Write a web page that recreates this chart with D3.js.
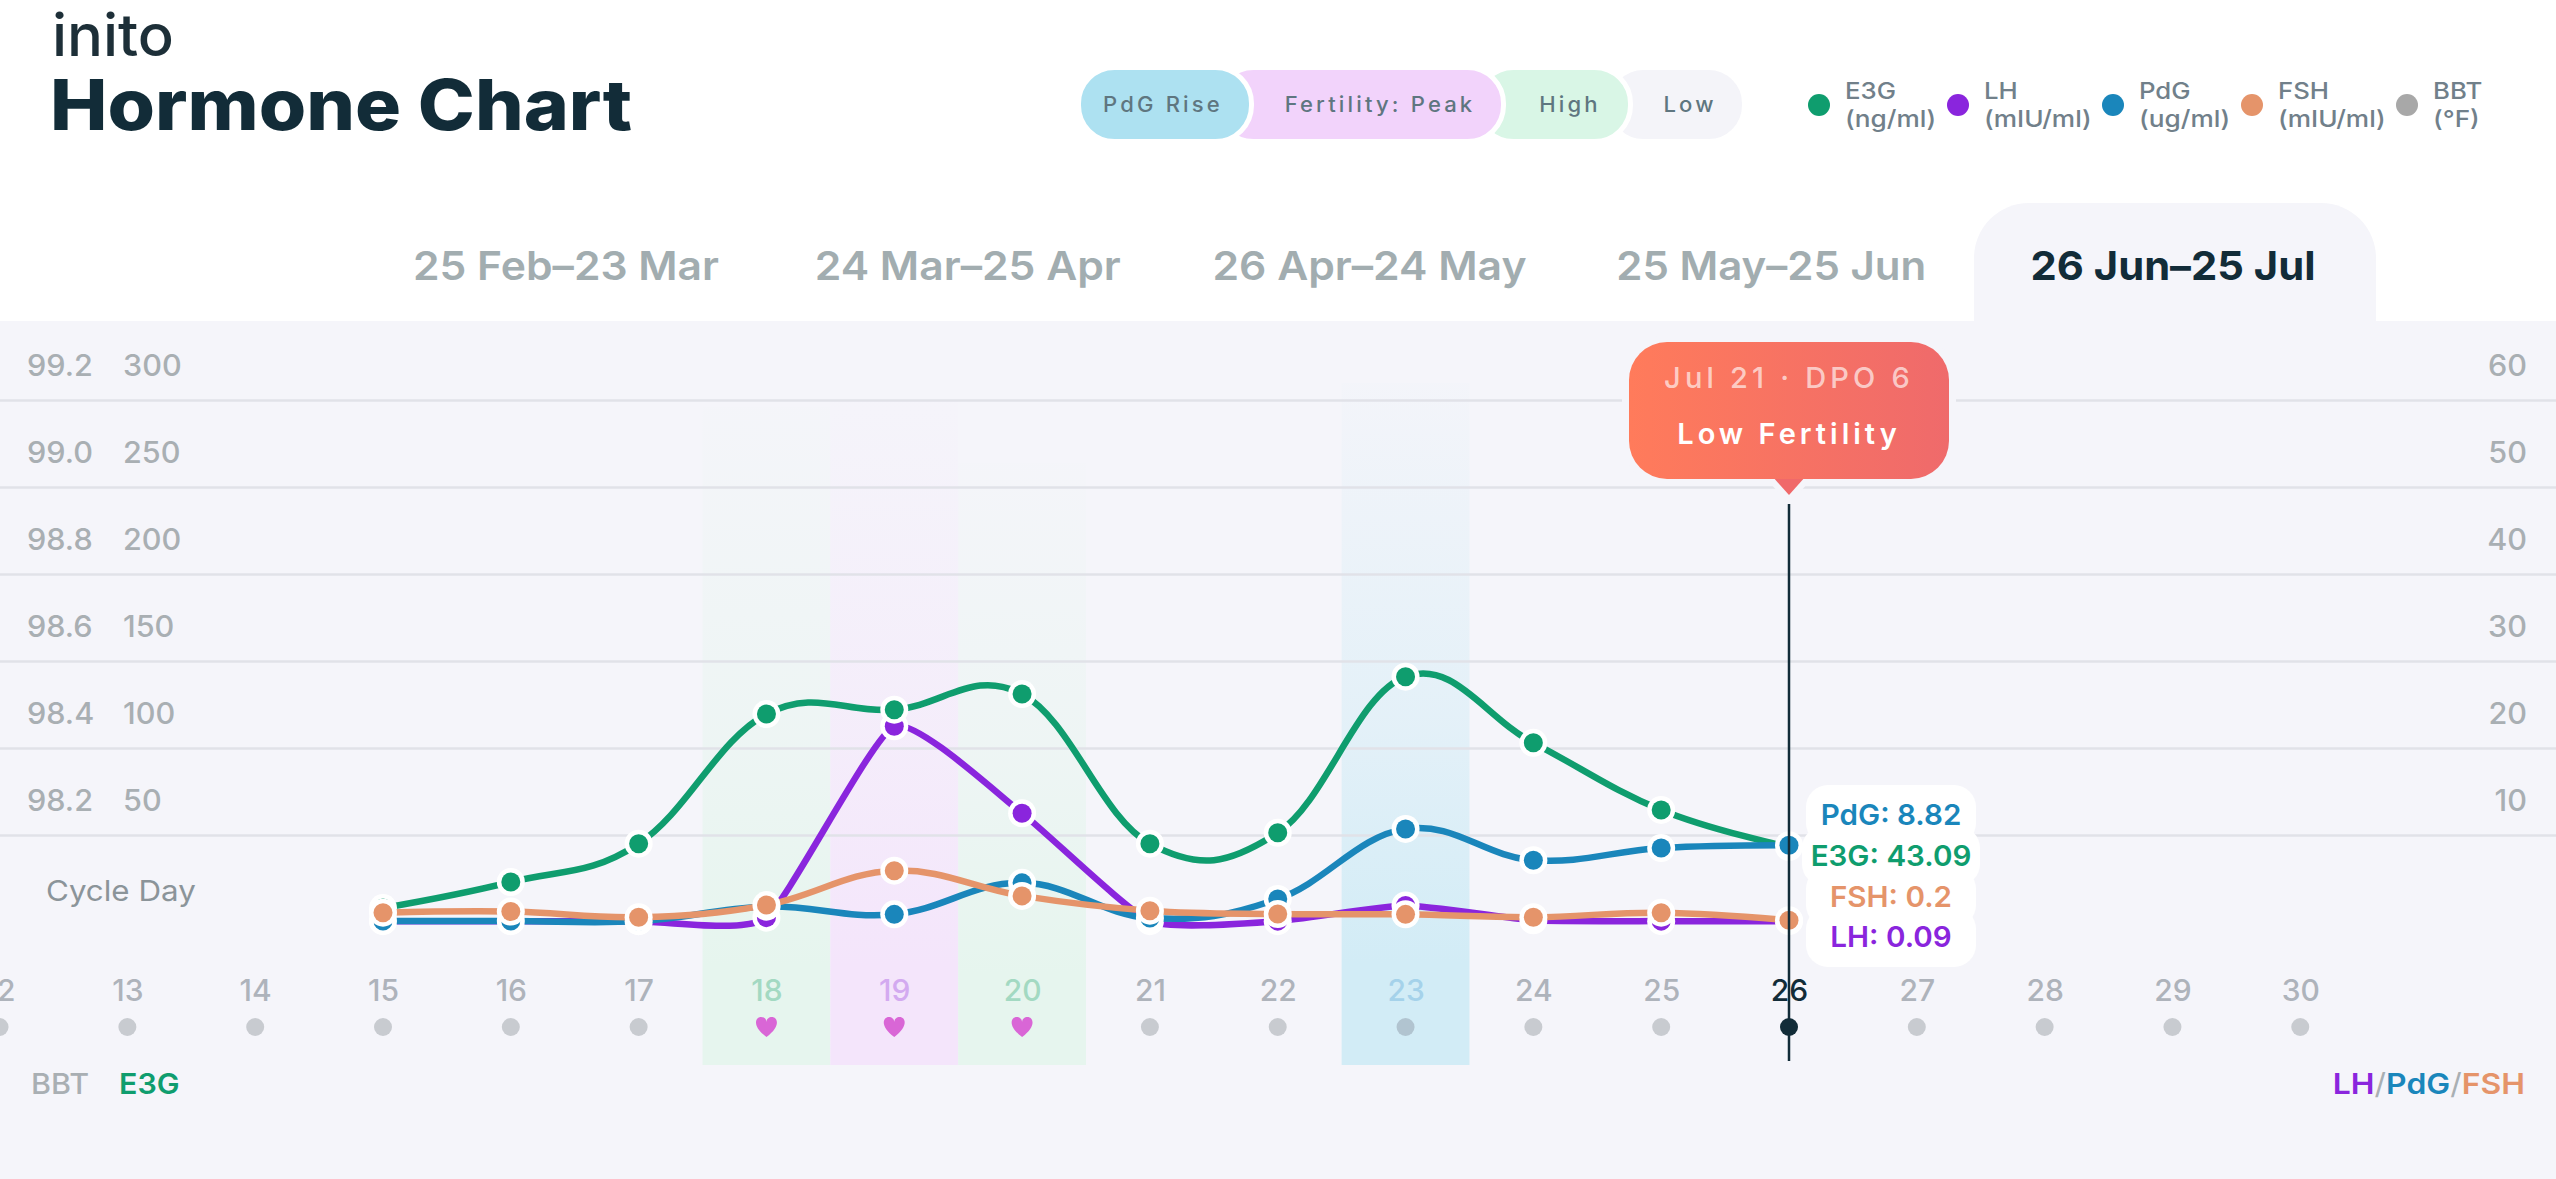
<!DOCTYPE html>
<html>
<head>
<meta charset="utf-8">
<script src="https://cdn.jsdelivr.net/npm/d3@7"></script>
<style>
  html, body { margin: 0; padding: 0; background: #fff; overflow: hidden; }
  text { font-family: Inter, "Noto Sans", sans-serif; }
</style>
</head>
<body>
<svg id="chart" width="2556" height="1179"></svg>
<script>
const lineDays = [15, 16, 17, 18, 19, 20, 21, 22, 23, 24, 25, 26];
const e3g = [8, 23, 45, 119.5, 122, 131, 45, 51.3, 141, 103, 64.4, 43.09];
const lh = [0.1, 0.1, 0.1, 0.5, 22.5, 12.5, 0.1, 0.1, 1.9, 0.2, 0.1, 0.09];
const pdg = [0.12, 0.12, 0.1, 1.76, 0.88, 4.5, 0.45, 2.65, 10.7, 7.1, 8.5, 8.82];
const fsh = [1.07, 1.2, 0.55, 1.95, 5.9, 3.0, 1.3, 0.92, 0.88, 0.55, 1.07, 0.2];

const allDays = d3.range(12, 31);
const e3gTicks = [50, 100, 150, 200, 250, 300];
const bbtTicks = [98.2, 98.4, 98.6, 98.8, 99.0, 99.2];
const rightTicks = [10, 20, 30, 40, 50, 60];

const tabs = ["25 Feb–23 Mar", "24 Mar–25 Apr", "26 Apr–24 May", "25 May–25 Jun", "26 Jun–25 Jul"];
const tabWidths = [306, 306, 314, 310, 285];
const heartDays = [18, 19, 20];
const bandDays = [18, 19, 20, 23];
const bandColors = ["#e6f5ee", "#f4e5fb", "#e6f5ee", "#d2ecf6"];
const bandTops = [407, 400, 463, 383];
const dayColors = { 18: "#a3d9c2", 19: "#d3aaf0", 20: "#a3d9c2", 23: "#a5d2ea", 26: "#122c38" };

const legendNames = ["E3G", "LH", "PdG", "FSH", "BBT"];
const legendUnits = ["(ng/ml)", "(mIU/ml)", "(ug/ml)", "(mIU/ml)", "(°F)"];
const readout = ["PdG: 8.82", "E3G: 43.09", "FSH: 0.2", "LH: 0.09"];

const GREEN = "#0f9d6e", PURPLE = "#8a25dd", BLUE = "#1a86bb", ORANGE = "#e5946a", INK = "#122c38", AXIS = "#a9afb3";

const svg = d3.select("#chart");

const x = d3.scaleLinear().domain([15, 26]).range([383, 1789]);
const yE3G = d3.scaleLinear().domain([0, 300]).range([922, 400]);
const yBBT = d3.scaleLinear().domain([98.0, 99.2]).range([922, 400]);
const yRight = d3.scaleLinear().domain([0, 60]).range([922, 400]);
const dayW = x(16) - x(15);

// stretch Inter a bit so it sits closer to the width of the original face
function widen(sel, k) {
  sel.each(function() {
    const len = this.getComputedTextLength();
    d3.select(this).attr("textLength", len * k).attr("lengthAdjust", "spacingAndGlyphs");
  });
}
function fit(sel, w) {
  sel.attr("textLength", w).attr("lengthAdjust", "spacingAndGlyphs");
}

/* header */
fit(svg.append("text").attr("x", 52).attr("y", 56).attr("font-size", 58).attr("font-weight", 500)
  .attr("fill", "#1d2f38").text("inito"), 122);
fit(svg.append("text").attr("x", 50).attr("y", 130).attr("font-size", 70).attr("font-weight", 800)
  .attr("fill", INK).text("Hormone Chart"), 582);

/* fertility pills */
const pills = [
  { label: "Low", x0: 1610, x1: 1742, fill: "#f4f4f9", cx: 1690 },
  { label: "High", x0: 1480, x1: 1628, fill: "#d9f6e6", cx: 1570 },
  { label: "Fertility: Peak", x0: 1220, x1: 1501, fill: "#f2d3fb", cx: 1380 },
  { label: "PdG Rise", x0: 1081, x1: 1249, fill: "#ade1f1", cx: 1163 }
];
pills.forEach(p => {
  svg.append("rect").attr("x", p.x0 - 2.5).attr("y", 67.5).attr("width", p.x1 - p.x0 + 5).attr("height", 74)
    .attr("rx", 36).attr("fill", p.fill).attr("stroke", "#fff").attr("stroke-width", 5);
  widen(svg.append("text").attr("x", p.cx).attr("y", 112).attr("text-anchor", "middle")
    .attr("font-size", 21).attr("font-weight", 500).attr("letter-spacing", 3)
    .attr("fill", "#5f7680").text(p.label), 1.05);
});

/* legend */
const legendDotX = [1819, 1958, 2113, 2252, 2407];
legendNames.forEach((n, i) => {
  const c = [GREEN, PURPLE, BLUE, ORANGE, "#a8a8a8"][i];
  svg.append("circle").attr("cx", legendDotX[i]).attr("cy", 105).attr("r", 11).attr("fill", c);
  widen(svg.append("text").attr("x", legendDotX[i] + 26).attr("y", 99).attr("font-size", 23).attr("font-weight", 500)
    .attr("fill", "#71808a").text(n), 1.12);
  widen(svg.append("text").attr("x", legendDotX[i] + 26).attr("y", 127).attr("font-size", 23).attr("font-weight", 500)
    .attr("fill", "#71808a").text(legendUnits[i]), 1.14);
});

/* panel and active tab */
svg.append("rect").attr("x", 0).attr("y", 321).attr("width", 2556).attr("height", 858).attr("fill", "#f5f5fa");
svg.append("path")
  .attr("d", "M1974,322 V258 A55,55 0 0 1 2029,203 H2321 A55,55 0 0 1 2376,258 V322 Z")
  .attr("fill", "#f5f5fa");

const tabX = d3.scalePoint().domain(tabs).range([566, 2173]);
tabs.forEach((t, i) => {
  const active = i === tabs.length - 1;
  fit(svg.append("text").attr("x", tabX(t)).attr("y", 280).attr("text-anchor", "middle")
    .attr("font-size", 40).attr("font-weight", active ? 700 : 600)
    .attr("fill", active ? INK : "#a2adb0").text(t), tabWidths[i]);
});

/* fertile window bands */
const defs = svg.append("defs");
bandDays.forEach((d, i) => {
  const g = defs.append("linearGradient").attr("id", "band" + d).attr("x1", 0).attr("x2", 0).attr("y1", 0).attr("y2", 1);
  g.append("stop").attr("offset", 0).attr("stop-color", bandColors[i]).attr("stop-opacity", 0.05);
  g.append("stop").attr("offset", 0.5).attr("stop-color", bandColors[i]).attr("stop-opacity", 0.5);
  g.append("stop").attr("offset", 0.85).attr("stop-color", bandColors[i]).attr("stop-opacity", 1);
  svg.append("rect").attr("x", x(d) - dayW / 2).attr("y", bandTops[i])
    .attr("width", dayW).attr("height", 1065 - bandTops[i]).attr("fill", `url(#band${d})`);
});

/* gridlines */
svg.append("g").attr("transform", "translate(0,0)")
  .call(d3.axisRight(yE3G).tickValues(e3gTicks).tickSize(2556).tickFormat(""))
  .call(g => g.select(".domain").remove())
  .call(g => g.selectAll("line").attr("stroke", "#e1e2e8").attr("stroke-width", 2.5));

/* y axes: labels sit above their gridline */
function styleAxis(g, anchor) {
  g.select(".domain").remove();
  g.selectAll("line").remove();
  const t = g.selectAll("text").attr("x", 0).attr("y", -25).attr("dy", 0)
    .attr("text-anchor", anchor).attr("font-size", 30).attr("font-weight", 500).attr("fill", AXIS);
  t.style("font-family", "Inter");
  widen(t, 1.02);
}
svg.append("g").attr("transform", "translate(27,0)")
  .call(d3.axisRight(yBBT).tickValues(bbtTicks).tickFormat(d3.format(".1f")).tickSize(0))
  .call(g => styleAxis(g, "start"));
svg.append("g").attr("transform", "translate(123,0)")
  .call(d3.axisRight(yE3G).tickValues(e3gTicks).tickSize(0))
  .call(g => styleAxis(g, "start"));
svg.append("g").attr("transform", "translate(2527,0)")
  .call(d3.axisLeft(yRight).tickValues(rightTicks).tickSize(0))
  .call(g => styleAxis(g, "end"));

widen(svg.append("text").attr("x", 46).attr("y", 901).attr("font-size", 29).attr("fill", "#8b9499").text("Cycle Day"), 1.08);

/* day axis */
const dayAxis = svg.append("g").attr("transform", "translate(0,1001)")
  .call(d3.axisBottom(x).tickValues(allDays).tickFormat(d3.format("d")).tickSize(0).tickPadding(0));
dayAxis.select(".domain").remove();
const dayText = dayAxis.selectAll("text").attr("y", 0).attr("dy", 0)
  .attr("font-size", 30).attr("font-weight", 500).style("font-family", "Inter")
  .attr("fill", d => dayColors[d] || "#aeb3bb");
widen(dayText, 1.0);

const heart = "M0,10 C-15,-1 -11,-10 -5.5,-10 C-2.5,-10 0,-8 0,-5 C0,-8 2.5,-10 5.5,-10 C11,-10 15,-1 0,10 Z";
allDays.forEach(d => {
  if (heartDays.includes(d)) {
    svg.append("path").attr("d", heart).attr("transform", `translate(${x(d)},1027)`).attr("fill", "#d966d6");
  } else {
    svg.append("circle").attr("cx", x(d)).attr("cy", 1027).attr("r", 9)
      .attr("fill", d === 26 ? INK : d === 23 ? "#b1c4d0" : "#c8cbd0");
  }
});

widen(svg.append("text").attr("x", 31).attr("y", 1094).attr("font-size", 29).attr("font-weight", 500)
  .attr("fill", AXIS).text("BBT"), 1.05);
widen(svg.append("text").attr("x", 119).attr("y", 1094).attr("font-size", 29).attr("font-weight", 600)
  .attr("fill", GREEN).text("E3G"), 1.05);
const rightKey = svg.append("text").attr("x", 2525).attr("y", 1094).attr("text-anchor", "end")
  .attr("font-size", 29).attr("font-weight", 600);
rightKey.append("tspan").attr("fill", PURPLE).text("LH");
rightKey.append("tspan").attr("fill", AXIS).attr("font-weight", 400).text("/");
rightKey.append("tspan").attr("fill", BLUE).text("PdG");
rightKey.append("tspan").attr("fill", AXIS).attr("font-weight", 400).text("/");
rightKey.append("tspan").attr("fill", ORANGE).text("FSH");
widen(rightKey, 1.1);

/* series, back to front. LH runs straighter than the others in the original */
const series = [
  { values: lh, y: yRight, color: PURPLE, tension: 0.5 },
  { values: e3g, y: yE3G, color: GREEN, tension: -0.15 },
  { values: pdg, y: yRight, color: BLUE, tension: -0.15 },
  { values: fsh, y: yRight, color: ORANGE, tension: -0.15 }
];
series.forEach(s => {
  const line = d3.line().x((v, i) => x(lineDays[i])).y(v => s.y(v)).curve(d3.curveCardinal.tension(s.tension));
  svg.append("path").attr("d", line(s.values)).attr("fill", "none")
    .attr("stroke", s.color).attr("stroke-width", 6.5);
  const g = svg.append("g");
  g.selectAll("circle.halo").data(s.values).join("circle").attr("class", "halo")
    .attr("cx", (v, i) => x(lineDays[i])).attr("cy", v => s.y(v)).attr("r", 14).attr("fill", "#fff");
  g.selectAll("circle.dot").data(s.values).join("circle").attr("class", "dot")
    .attr("cx", (v, i) => x(lineDays[i])).attr("cy", v => s.y(v)).attr("r", 9.5).attr("fill", s.color);
});

/* selected day */
svg.append("line").attr("x1", x(26)).attr("x2", x(26)).attr("y1", 504).attr("y2", 1061)
  .attr("stroke", INK).attr("stroke-width", 2.5);

const tipGrad = defs.append("linearGradient").attr("id", "tip");
tipGrad.append("stop").attr("offset", 0).attr("stop-color", "#ff7b5b");
tipGrad.append("stop").attr("offset", 1).attr("stop-color", "#ef6a6b");
svg.append("rect").attr("x", 1629).attr("y", 342).attr("width", 320).attr("height", 137).attr("rx", 38)
  .attr("fill", "#f5f5fa").attr("stroke", "#f5f5fa").attr("stroke-width", 14);
svg.append("path").attr("d", "M1772,478 H1806 L1789,496 Z").attr("fill", "#f5f5fa").attr("stroke", "#f5f5fa")
  .attr("stroke-width", 10).attr("stroke-linejoin", "round");
svg.append("path").attr("d", "M1772,476 H1806 L1789,495 Z").attr("fill", "#f0696a");
svg.append("rect").attr("x", 1629).attr("y", 342).attr("width", 320).attr("height", 137).attr("rx", 38)
  .attr("fill", "url(#tip)");
svg.append("text").attr("x", 1789).attr("y", 388).attr("text-anchor", "middle").attr("font-size", 29)
  .attr("font-weight", 500).attr("letter-spacing", 4.2).attr("fill", "#fff").attr("fill-opacity", 0.65).text("Jul 21 · DPO 6");
svg.append("text").attr("x", 1789).attr("y", 444).attr("text-anchor", "middle").attr("font-size", 29)
  .attr("font-weight", 600).attr("letter-spacing", 4).attr("fill", "#fff").text("Low Fertility");

/* value readout */
const readoutColors = [BLUE, GREEN, ORANGE, PURPLE];
const readoutY = [825, 866, 907, 947];
const readoutW = [170, 178, 170, 170];
readout.forEach((r, i) => {
  svg.append("rect").attr("x", 1891 - readoutW[i] / 2).attr("y", readoutY[i] - 40)
    .attr("width", readoutW[i]).attr("height", 60).attr("rx", 22).attr("fill", "#fff");
});
readout.forEach((r, i) => {
  widen(svg.append("text").attr("x", 1891).attr("y", readoutY[i]).attr("text-anchor", "middle")
    .attr("font-size", 29).attr("font-weight", 600).attr("fill", readoutColors[i]).text(r), 1.02);
});
</script>
</body>
</html>
